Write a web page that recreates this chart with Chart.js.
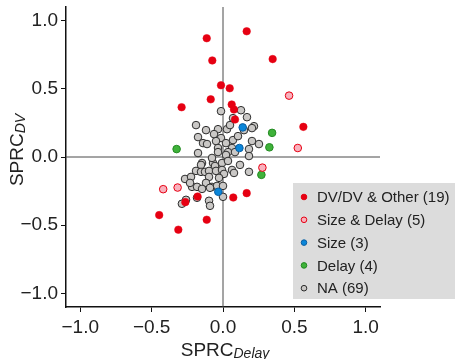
<!DOCTYPE html>
<html>
<head>
<meta charset="utf-8">
<script src="https://cdn.jsdelivr.net/npm/chart.js@4.4.1/dist/chart.umd.min.js"></script>
<style>
  html, body { margin: 0; padding: 0; background: #fff; }
</style>
</head>
<body>
<canvas id="chart" width="455" height="359"></canvas>
<script>
// values (SPRC Delay on x, SPRC DV on y)
const dvOtherX = [-0.114, 0.166, -0.075, 0.348, -0.014, 0.047, -0.086, -0.29, 0.061, 0.077, 0.084, 0.563,
  -0.447, -0.313, -0.114, -0.264, -0.178, 0.072, 0.166];
const dvOtherY = [0.871, 0.922, 0.708, 0.718, 0.526, 0.504, 0.423, 0.365, 0.385, 0.348, 0.275, 0.221,
  -0.426, -0.533, -0.46, -0.331, -0.29, -0.297, -0.265];

const sizeDelayX = [0.463, 0.524, 0.276, -0.419, -0.318];
const sizeDelayY = [0.45, 0.066, -0.078, -0.236, -0.224];

const sizeX = [0.138, 0.115, -0.033];
const sizeY = [0.217, 0.066, -0.255];

const delayX = [-0.325, 0.344, 0.325, 0.269];
const delayY = [0.058, 0.177, 0.071, -0.131];

const naX = [-0.014, 0.126, 0.07, 0.168, -0.189, 0.217, -0.119, -0.035, 0.028, 0.203, 0.049, -0.175,
  -0.014, -0.049, 0.07, 0.203, -0.14, -0.112, 0.252, 0.063, 0.182, -0.035, -0.175, -0.035, 0.035,
  0.084, 0.182, 0.021, -0.147, -0.154, -0.07, -0.056, -0.007, 0.035, 0.119, -0.189, -0.154, -0.126,
  -0.098, -0.049, -0.007, 0.007, 0.063, 0.077, 0.182, -0.266, -0.224, -0.098, -0.119, -0.217, -0.182,
  -0.147, -0.077, -0.042, 0.0, 0.0, -0.098, -0.091, -0.288, -0.182, -0.091, -0.063, 0.105, 0.021,
  -0.231, -0.028, -0.077, 0.147, -0.259];
const naY = [0.336, 0.343, 0.285, 0.292, 0.234, 0.226, 0.197, 0.204, 0.204, 0.212, 0.234, 0.146,
  0.139, 0.117, 0.124, 0.117, 0.102, 0.095, 0.095, 0.066, 0.058, 0.066, 0.029, 0.036, 0.036,
  0.036, 0.007, 0.015, -0.044, -0.058, -0.044, -0.066, -0.044, -0.029, -0.058, -0.102, -0.109, -0.109,
  -0.102, -0.102, -0.095, -0.124, -0.095, -0.117, -0.109, -0.161, -0.146, -0.146, -0.19, -0.219, -0.219,
  -0.234, -0.219, -0.212, -0.212, -0.292, -0.321, -0.358, -0.343, -0.299, -0.226, 0.168, 0.153, 0.102,
  -0.19, -0.153, -0.007, 0.197, -0.314];

const tickValues = [-1, -0.5, 0, 0.5, 1];
const legendLabels = ['DV/DV & Other (19)', 'Size & Delay (5)', 'Size (3)', 'Delay (4)', 'NA (69)'];

const FONT = '"Liberation Sans", Arial, sans-serif';
const zip = (xs, ys) => xs.map((x, i) => ({ x: x, y: ys[i] }));
const fmt = v => (v < 0 ? '\u2212' : '') + Math.abs(v).toFixed(1);

function series(label, xs, ys, fill, border, bw) {
  return {
    label: label,
    data: zip(xs, ys),
    backgroundColor: fill,
    borderColor: border,
    borderWidth: bw,
    pointRadius: 3.8,
    pointHoverRadius: 3.8
  };
}

// zero lines through the middle of the plot
const zeroLines = {
  id: 'zeroLines',
  beforeDatasetsDraw(chart) {
    const { ctx, chartArea, scales } = chart;
    const x0 = scales.x.getPixelForValue(0);
    const y0 = scales.y.getPixelForValue(0);
    ctx.save();
    ctx.strokeStyle = '#4a4a4a';
    ctx.lineWidth = 1;
    ctx.beginPath();
    ctx.moveTo(x0, chartArea.top);
    ctx.lineTo(x0, chartArea.bottom);
    ctx.moveTo(chartArea.left, y0);
    ctx.lineTo(chartArea.right, y0);
    ctx.stroke();
    ctx.restore();
  }
};

// axis titles with italic subscripts, and the grey legend box
const extras = {
  id: 'extras',
  afterDraw(chart) {
    const ctx = chart.ctx;
    ctx.save();
    ctx.fillStyle = '#222';
    ctx.textBaseline = 'alphabetic';
    ctx.textAlign = 'left';

    const big = '19px ' + FONT;
    const small = 'italic 14px ' + FONT;

    // x title
    ctx.font = big;
    let w1 = ctx.measureText('SPRC').width;
    ctx.font = small;
    let w2 = ctx.measureText('Delay').width;
    let sx = 225 - (w1 + w2) / 2;
    ctx.font = big;
    ctx.fillText('SPRC', sx, 356);
    ctx.font = small;
    ctx.fillText('Delay', sx + w1, 358);

    // y title (rotated)
    ctx.translate(23, 150);
    ctx.rotate(-Math.PI / 2);
    ctx.font = big;
    w1 = ctx.measureText('SPRC').width;
    ctx.font = small;
    w2 = ctx.measureText('DV').width;
    sx = -(w1 + w2) / 2;
    ctx.font = big;
    ctx.fillText('SPRC', sx, 0);
    ctx.font = small;
    ctx.fillText('DV', sx + w1, 2);
    ctx.setTransform(1, 0, 0, 1, 0, 0);

    // legend
    ctx.fillStyle = '#dcdcdc';
    ctx.fillRect(293, 183, 162, 116);
    ctx.font = '15px ' + FONT;
    ctx.textBaseline = 'middle';
    chart.data.datasets.forEach((ds, i) => {
      const y = 197 + i * 22.8;
      ctx.beginPath();
      ctx.arc(304, y, 2.8, 0, Math.PI * 2);
      ctx.fillStyle = ds.backgroundColor;
      ctx.fill();
      ctx.lineWidth = 1;
      ctx.strokeStyle = ds.borderColor;
      ctx.stroke();
      ctx.fillStyle = '#222';
      ctx.fillText(legendLabels[i], 317, y + 1);
    });
    ctx.restore();
  }
};

const axisCommon = {
  type: 'linear',
  min: -1.1,
  max: 1.1,
  afterBuildTicks: s => { s.ticks = tickValues.map(v => ({ value: v })); },
  grid: { drawOnChartArea: false, drawTicks: true, tickLength: 5, color: '#111', tickWidth: 1 },
  border: { display: true, color: '#111', width: 1.5 },
  title: { display: false }
};

new Chart(document.getElementById('chart'), {
  type: 'scatter',
  data: {
    datasets: [
      series('DV/DV & Other', dvOtherX, dvOtherY, '#e60012', '#e60012', 0.5),
      series('Size & Delay', sizeDelayX, sizeDelayY, '#f8b1bd', '#e60012', 1),
      series('Size', sizeX, sizeY, '#0a86d9', '#0b5fa3', 1),
      series('Delay', delayX, delayY, '#3fb23a', '#238a22', 1),
      series('NA', naX, naY, '#cac8c6', '#2b2b2b', 1)
    ]
  },
  options: {
    responsive: false,
    animation: false,
    layout: { padding: { left: 0, right: 75, top: 7, bottom: 0 } },
    plugins: { legend: { display: false }, tooltip: { enabled: false } },
    scales: {
      x: Object.assign({}, axisCommon, {
        ticks: { callback: fmt, font: { size: 19, family: FONT }, color: '#222', padding: 4, maxRotation: 0, autoSkip: false },
        afterFit: s => { s.height = 52; s.paddingLeft = 0; s.paddingRight = 0; }
      }),
      y: Object.assign({}, axisCommon, {
        ticks: { callback: fmt, font: { size: 19, family: FONT }, color: '#222', padding: 3, autoSkip: false },
        afterFit: s => { s.width = 66; s.paddingTop = 0; s.paddingBottom = 0; }
      })
    }
  },
  plugins: [zeroLines, extras]
});
</script>
</body>
</html>
